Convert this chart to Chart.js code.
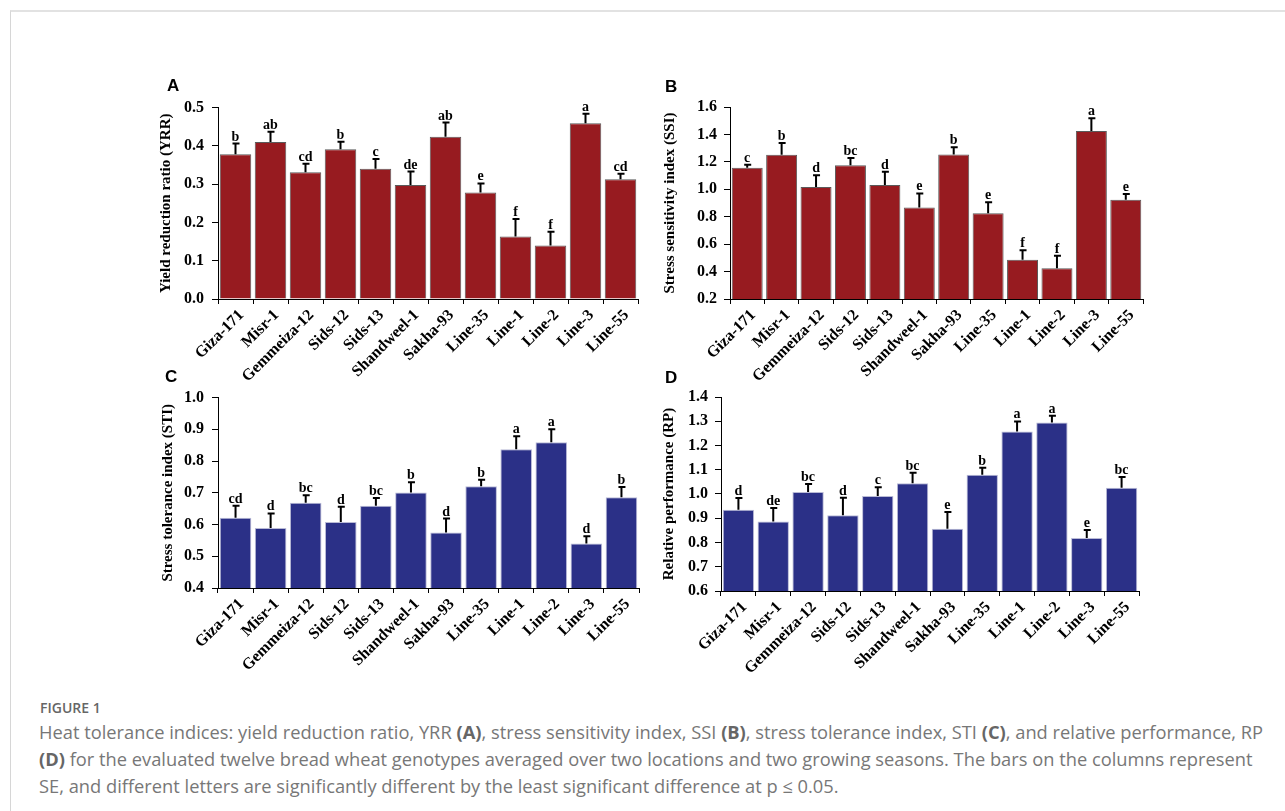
<!DOCTYPE html>
<html>
<head>
<meta charset="utf-8">
<script src="https://cdn.jsdelivr.net/npm/chart.js@4.4.0/dist/chart.umd.min.js"></script>
<style>
  body { margin: 0; background: #fff; width: 1285px; height: 811px; overflow: hidden; position: relative; }
  .frame { position: absolute; left: 10px; top: 10px; width: 1300px; height: 820px; border-left: 1px solid #d6d6d6; border-top: 2px solid #e2e2e2; }
  .panel { position: absolute; }
  .tag { position: absolute; font: bold 17px "Liberation Sans", Arial, sans-serif; color: #000; }
  .figno { position: absolute; left: 40px; top: 698px; font: 600 14px "Open Sans", sans-serif; color: #666; }
  .cap { position: absolute; left: 39px; top: 718px; font: 18.3px/27px "Open Sans", sans-serif; color: #777; white-space: nowrap; }
  .cap b { color: #666; font-weight: 700; }
</style>
</head>
<body>
<div class="frame"></div>

<div class="panel" style="left:145px;top:90px"><canvas id="chartA" width="505" height="300"></canvas></div>
<div class="panel" style="left:650px;top:90px"><canvas id="chartB" width="505" height="300"></canvas></div>
<div class="panel" style="left:145px;top:380px"><canvas id="chartC" width="505" height="300"></canvas></div>
<div class="panel" style="left:650px;top:380px"><canvas id="chartD" width="505" height="300"></canvas></div>

<div class="tag" style="left:167px;top:76px">A</div>
<div class="tag" style="left:665px;top:77px">B</div>
<div class="tag" style="left:165px;top:367px">C</div>
<div class="tag" style="left:665px;top:368px">D</div>

<div class="figno">FIGURE 1</div>
<div class="cap">Heat tolerance indices: yield reduction ratio, YRR <b>(A)</b>, stress sensitivity index, SSI <b>(B)</b>, stress tolerance index, STI <b>(C)</b>, and relative performance, RP<br><b>(D)</b> for the evaluated twelve bread wheat genotypes averaged over two locations and two growing seasons. The bars on the columns represent<br>SE, and different letters are significantly different by the least significant difference at p ≤ 0.05.</div>

<script>
var genotypes = ['Giza-171', 'Misr-1', 'Gemmeiza-12', 'Sids-12', 'Sids-13', 'Shandweel-1',
                 'Sakha-93', 'Line-35', 'Line-1', 'Line-2', 'Line-3', 'Line-55'];

// A - yield reduction ratio
var yrrMean = [0.378, 0.410, 0.331, 0.391, 0.340, 0.298, 0.424, 0.278, 0.163, 0.140, 0.459, 0.313];
var yrrSE   = [0.028, 0.027, 0.022, 0.020, 0.026, 0.035, 0.037, 0.024, 0.046, 0.036, 0.025, 0.014];
var yrrLetters = ['b', 'ab', 'cd', 'b', 'c', 'de', 'ab', 'e', 'f', 'f', 'a', 'cd'];

// B - stress sensitivity index
var ssiMean = [1.157, 1.251, 1.016, 1.176, 1.031, 0.868, 1.254, 0.825, 0.486, 0.425, 1.425, 0.924];
var ssiSE   = [0.021, 0.087, 0.087, 0.053, 0.097, 0.102, 0.053, 0.080, 0.070, 0.090, 0.093, 0.041];
var ssiLetters = ['c', 'b', 'd', 'bc', 'd', 'e', 'b', 'e', 'f', 'f', 'a', 'e'];

// C - stress tolerance index
var stiMean = [0.621, 0.589, 0.669, 0.608, 0.659, 0.701, 0.575, 0.721, 0.837, 0.859, 0.540, 0.686];
var stiSE   = [0.038, 0.046, 0.023, 0.048, 0.025, 0.032, 0.044, 0.020, 0.041, 0.041, 0.023, 0.032];
var stiLetters = ['cd', 'd', 'bc', 'd', 'bc', 'b', 'd', 'b', 'a', 'a', 'd', 'b'];

// D - relative performance
var rpMean = [0.935, 0.887, 1.008, 0.912, 0.992, 1.044, 0.857, 1.079, 1.258, 1.295, 0.819, 1.026];
var rpSE   = [0.048, 0.055, 0.033, 0.073, 0.036, 0.044, 0.069, 0.029, 0.041, 0.028, 0.033, 0.044];
var rpLetters = ['d', 'de', 'bc', 'd', 'c', 'bc', 'e', 'b', 'a', 'a', 'e', 'bc'];

var serif = '"Liberation Serif", "Times New Roman", serif';

// draws the upper SE whisker and the letter above each bar
var errorPlugin = {
    id: 'errorLetters',
    afterDatasetsDraw: function (chart) {
        var ctx = chart.ctx;
        var yScale = chart.scales.y;
        var ds = chart.data.datasets[0];
        var meta = chart.getDatasetMeta(0);
        ctx.save();
        ctx.strokeStyle = '#000';
        ctx.lineWidth = 2;
        ctx.fillStyle = '#000';
        ctx.font = 'bold 14px ' + serif;
        ctx.textAlign = 'center';
        ctx.textBaseline = 'alphabetic';
        meta.data.forEach(function (bar, i) {
            var v = ds.data[i];
            var yTop = yScale.getPixelForValue(v + ds.se[i]);
            var yBar = yScale.getPixelForValue(v);
            ctx.beginPath();
            ctx.moveTo(bar.x, yBar);
            ctx.lineTo(bar.x, yTop);
            ctx.moveTo(bar.x - 3, yTop);
            ctx.lineTo(bar.x + 4, yTop);
            ctx.stroke();
            ctx.fillText(ds.letters[i], bar.x, yTop - 3);
        });
        ctx.restore();
    }
};

function makeChart(id, means, se, letters, color, edge, yMin, yMax, step, title, pad, yWidth, xHeight, titlePad, tickPad) {
    var ctx = document.getElementById(id).getContext('2d');
    return new Chart(ctx, {
        type: 'bar',
        data: {
            labels: genotypes,
            datasets: [{
                data: means,
                se: se,
                letters: letters,
                backgroundColor: color,
                borderColor: edge,
                borderWidth: 1,
                borderSkipped: 'bottom',
                barPercentage: 0.9,
                categoryPercentage: 1.0
            }]
        },
        options: {
            responsive: false,
            animation: false,
            layout: { padding: pad },
            plugins: {
                legend: { display: false },
                tooltip: { enabled: false }
            },
            scales: {
                x: {
                    grid: { display: true, drawOnChartArea: false, tickLength: 5, color: '#000', offset: true },
                    border: { color: '#000', width: 1 },
                    ticks: {
                        color: '#000',
                        font: { family: serif, size: 16, weight: 'bold' },
                        minRotation: 45,
                        maxRotation: 45,
                        autoSkip: false,
                        labelOffset: 6,
                        padding: 2
                    },
                    afterFit: function (s) { s.height = xHeight; }
                },
                y: {
                    min: yMin,
                    max: yMax,
                    grid: { display: true, drawOnChartArea: false, tickLength: 6, color: '#000' },
                    border: { color: '#000', width: 1 },
                    ticks: {
                        stepSize: step,
                        color: '#000',
                        padding: tickPad,
                        font: { family: serif, size: 16, weight: 'bold' },
                        callback: function (value) { return value.toFixed(1); }
                    },
                    title: {
                        display: true,
                        text: title,
                        color: '#000',
                        font: { family: serif, size: 15, weight: 'bold' },
                        padding: { top: titlePad, bottom: 0 }
                    },
                    afterFit: function (s) { s.width = yWidth; }
                }
            }
        },
        plugins: [errorPlugin]
    });
}

var red = '#971b20', redEdge = '#5a5a5a';
var blue = '#2b3087', blueEdge = '#b9bad6';

makeChart('chartA', yrrMean, yrrSE, yrrLetters, red, redEdge, 0, 0.5, 0.1,
    'Yield reduction ratio (YRR)', { top: 16, right: 12 }, 73, 91, 12, 8);
makeChart('chartB', ssiMean, ssiSE, ssiLetters, red, redEdge, 0.2, 1.6, 0.2,
    'Stress sensitivity index (SSI)', { top: 17, right: 12 }, 80, 91, 11, 7);
makeChart('chartC', stiMean, stiSE, stiLetters, blue, blueEdge, 0.4, 1.0, 0.1,
    'Stress tolerance index (STI)', { top: 14, right: 11 }, 73, 92, 14, 8);
makeChart('chartD', rpMean, rpSE, rpLetters, blue, blueEdge, 0.6, 1.4, 0.1,
    'Relative performance (RP)', { top: 17, right: 16 }, 71, 89, 10, 7);
</script>
</body>
</html>
